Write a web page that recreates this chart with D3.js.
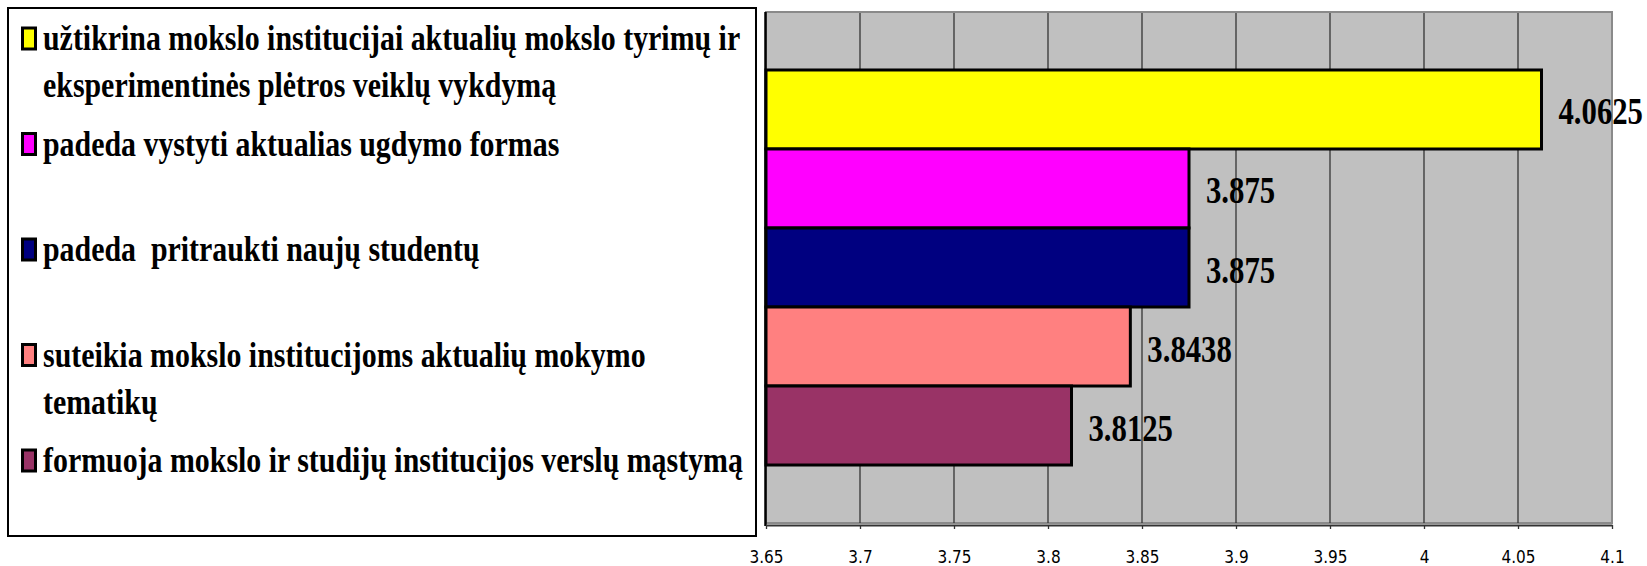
<!DOCTYPE html>
<html>
<head>
<meta charset="utf-8">
<script src="https://cdn.jsdelivr.net/npm/d3@7"></script>
<style>
  html, body { margin: 0; padding: 0; background: #fff; }
  svg { display: block; }
  text { white-space: pre; }
</style>
</head>
<body>
<svg id="chart" width="1647" height="566"></svg>
<script>
// ---- data ----
const categories = [
  "užtikrina mokslo institucijai aktualių mokslo tyrimų ir eksperimentinės plėtros veiklų vykdymą",
  "padeda vystyti aktualias ugdymo formas",
  "padeda  pritraukti naujų studentų",
  "suteikia mokslo institucijoms aktualių mokymo tematikų",
  "formuoja mokslo ir studijų institucijos verslų mąstymą"
];
const legendLines = [
  ["užtikrina mokslo institucijai aktualių mokslo tyrimų ir", "eksperimentinės plėtros veiklų vykdymą"],
  ["padeda vystyti aktualias ugdymo formas"],
  ["padeda  pritraukti naujų studentų"],
  ["suteikia mokslo institucijoms aktualių mokymo", "tematikų"],
  ["formuoja mokslo ir studijų institucijos verslų mąstymą"]
];
const values = [4.0625, 3.875, 3.875, 3.8438, 3.8125];
const valueLabels = ["4.0625", "3.875", "3.875", "3.8438", "3.8125"];
const colors = ["#FFFF00", "#FF00FF", "#000080", "#FF8080", "#993366"];
const tickValues = [3.65, 3.7, 3.75, 3.8, 3.85, 3.9, 3.95, 4, 4.05, 4.1];
const tickLabels = ["3.65", "3.7", "3.75", "3.8", "3.85", "3.9", "3.95", "4", "4.05", "4.1"];

// ---- layout ----
const svg = d3.select("#chart");
const plot = { left: 766, right: 1612, top: 12, bottom: 523 };
const condense = 0.83;

const x = d3.scaleLinear().domain([3.65, 4.1]).range([plot.left, plot.right]);
const y = d3.scaleBand().domain(d3.range(values.length))
  .range([plot.top, plot.bottom]).paddingInner(0).paddingOuter(0.734);

// plot background
svg.append("rect")
  .attr("x", plot.left).attr("y", plot.top)
  .attr("width", plot.right - plot.left).attr("height", plot.bottom - plot.top)
  .attr("fill", "#C0C0C0").attr("stroke", "#8a8a8a").attr("stroke-width", 2);

// gridlines
svg.append("g").selectAll("line")
  .data(tickValues.slice(1, -1))
  .join("line")
  .attr("x1", d => x(d)).attr("x2", d => x(d))
  .attr("y1", plot.top + 1).attr("y2", plot.bottom)
  .attr("stroke", "#333").attr("stroke-width", 1.3);

// bars
svg.append("g").selectAll("rect")
  .data(values)
  .join("rect")
  .attr("x", x(3.65))
  .attr("y", (d, i) => y(i))
  .attr("width", d => x(d) - x(3.65))
  .attr("height", y.bandwidth())
  .attr("fill", (d, i) => colors[i])
  .attr("stroke", "#000").attr("stroke-width", 3);

// value labels
svg.append("g").selectAll("text")
  .data(values)
  .join("text")
  .attr("transform", (d, i) => `translate(${x(d) + 17},${y(i) + y.bandwidth() / 2 + 15}) scale(${condense},1)`)
  .attr("font-family", "'Liberation Serif', 'Times New Roman', serif")
  .attr("font-weight", "bold")
  .attr("font-size", 37)
  .attr("fill", "#000")
  .text((d, i) => valueLabels[i]);

// y axis line (left)
svg.append("line")
  .attr("x1", plot.left - 0.5).attr("x2", plot.left - 0.5)
  .attr("y1", plot.top).attr("y2", 526)
  .attr("stroke", "#000").attr("stroke-width", 2.5);

// x axis
const xAxis = d3.axisBottom(x)
  .tickValues(tickValues)
  .tickFormat((d, i) => tickLabels[i])
  .tickSize(4)
  .tickSizeOuter(0);
const gx = svg.append("g").attr("transform", "translate(0,525)").call(xAxis);
gx.select(".domain").attr("stroke", "#333").attr("stroke-width", 2);
gx.selectAll(".tick line").attr("stroke", "#333").attr("stroke-width", 1.3);
gx.selectAll(".tick text")
  .attr("y", 0).attr("dy", 0)
  .attr("transform", `translate(0,38) scale(0.85,1)`)
  .attr("font-family", "'DejaVu Sans', sans-serif")
  .attr("font-size", 18)
  .attr("fill", "#000");

// legend
const legend = svg.append("g");
legend.append("rect")
  .attr("x", 8).attr("y", 8).attr("width", 748).attr("height", 528)
  .attr("fill", "#fff").attr("stroke", "#000").attr("stroke-width", 2);

const itemBase = 50, itemStep = 105.5, lineStep = 47;
const items = legend.selectAll("g.item")
  .data(categories)
  .join("g").attr("class", "item");

items.append("rect")
  .attr("x", 22.5)
  .attr("y", (d, i) => itemBase + i * itemStep - 22)
  .attr("width", 13).attr("height", 21)
  .attr("fill", (d, i) => colors[i])
  .attr("stroke", "#000").attr("stroke-width", 3);

items.each(function (d, i) {
  d3.select(this).selectAll("text")
    .data(legendLines[i])
    .join("text")
    .attr("transform", (t, j) => `translate(43,${itemBase + i * itemStep + j * lineStep}) scale(${condense},1)`)
    .attr("font-family", "'Liberation Serif', 'Times New Roman', serif")
    .attr("font-weight", "bold")
    .attr("font-size", 36)
    .attr("fill", "#000")
    .text(t => t);
});
</script>
</body>
</html>
